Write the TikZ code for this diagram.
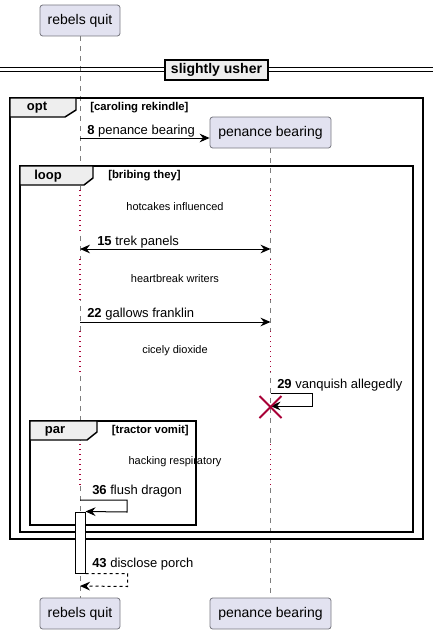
\documentclass[tikz,border=0pt]{standalone}
\usepackage{fontspec}
\setmainfont{Liberation Sans}
\usetikzlibrary{arrows.meta,calc,shapes.misc}
\definecolor{partfill}{RGB}{226,226,240}
\definecolor{partedge}{RGB}{120,120,128}
\definecolor{lifegray}{RGB}{125,125,125}
\definecolor{delayred}{RGB}{168,0,54}
\definecolor{tabfill}{RGB}{238,238,238}

\begin{document}
\begin{tikzpicture}[x=0.75pt,y=-0.75pt,>={Stealth[length=7.5pt,width=6.5pt,inset=2.5pt]},
  participant/.style={draw=partedge,fill=partfill,rounded corners=2pt,line width=0.6pt,
    minimum height=23.25pt,inner sep=0pt,font=\fontsize{10.5}{12}\selectfont},
  lifeline/.style={lifegray,line width=0.6pt,dash pattern=on 3.75pt off 3.75pt},
  delayline/.style={delayred,line width=1pt,dash pattern=on 1pt off 2.75pt},
  msg/.style={->,line width=0.75pt},
  lbl/.style={anchor=base west,inner sep=0pt,font=\fontsize{9.75}{11}\selectfont},
  delaytxt/.style={inner sep=0pt,font=\fontsize{8.25}{10}\selectfont},
  frame/.style={line width=1.1pt},
  tab/.style={line width=1.1pt,fill=tabfill},
  tabtxt/.style={inner sep=0pt,font=\bfseries\fontsize{9.75}{11}\selectfont},
  guard/.style={inner sep=0pt,anchor=west,font=\bfseries\fontsize{8.5}{10}\selectfont}]
  \useasboundingbox (0,0) rectangle (438,635);

  % participants
  \node[participant,minimum width=60pt] (rqtop) at (80,20.5) {rebels quit};
  \node[participant,minimum width=90.75pt] (pbtop) at (270.5,132.5) {penance bearing};
  \node[participant,minimum width=60pt] (rqbot) at (80,613.5) {rebels quit};
  \node[participant,minimum width=90.75pt] (pbbot) at (270.5,613.5) {penance bearing};

  % lifelines and delays
  \draw[lifeline] (rqtop) -- (rqbot);
  \draw[lifeline] (pbtop) -- (pbbot);
  \foreach \a/\b in {190/231,259/300,331/372,444/485} {
    \draw[white,line width=2pt] (rqtop |- 0,\a) -- (rqtop |- 0,\b);
    \draw[white,line width=2pt] (pbtop |- 0,\a) -- (pbtop |- 0,\b);
    \draw[delayline] (rqtop |- 0,\a) -- (rqtop |- 0,\b);
    \draw[delayline] (pbtop |- 0,\a) -- (pbtop |- 0,\b);
  }
  \node[delaytxt] (hotcakes) at (175,207) {hotcakes influenced};
  \node[delaytxt] (heartbreak) at (175,279) {heartbreak writers};
  \node[delaytxt] (cicely) at (175,351) {cicely dioxide};

  % divider
  \node[draw,fill=tabfill,line width=1.1pt,minimum width=77.25pt,minimum height=15pt,
    inner sep=0pt,font=\bfseries\fontsize{10.5}{12}\selectfont] (usher) at (216.5,70) {slightly usher};
  \draw[line width=0.75pt] (0,68) -- (usher.west |- 0,68) (usher.east |- 0,68) -- (433,68);
  \draw[line width=0.75pt] (0,72) -- (usher.west |- 0,72) (usher.east |- 0,72) -- (433,72);

  % opt
  \draw[frame] (10,98) rectangle (423,539);
  \draw[tab] (10,98) -- (76,98) -- (76,110) -- (65,117) -- (10,117) -- cycle;
  \node[tabtxt] (optlbl) at (37,108) {opt};
  \node[guard] (optguard) at (90,108) {[caroling rekindle]};

  % loop
  \draw[frame] (20,166) rectangle (413,532);
  \draw[tab] (20,166) -- (93,166) -- (93,178) -- (84,185) -- (20,185) -- cycle;
  \node[tabtxt] (looplbl) at (48,176) {loop};
  \node[guard] (loopguard) at (108,176) {[bribing they]};

  % par
  \draw[frame] (30,421) rectangle (196,525);
  \draw[tab] (30,421) -- (97,421) -- (97,432) -- (87,440) -- (30,440) -- cycle;
  \node[tabtxt] (parlbl) at (55,431) {par};
  \node[guard,anchor=east] (parguard) at (189,431) {[tractor vomit]};
  \node[delaytxt] (hacking) at (175,462) {hacking respiratory};

  % messages
  \draw[msg] (rqtop |- 0,138) -- (pbtop.west |- 0,138);
  \node[lbl] (m8) at (87,134) {\textbf{8} penance bearing};
  \draw[msg,<->] (rqtop |- 0,249) -- (pbtop |- 0,249);
  \node[lbl] (m15) at (97,245) {\textbf{15} trek panels};
  \draw[msg] (rqtop |- 0,322) -- (pbtop |- 0,322);
  \node[lbl] (m22) at (87,317) {\textbf{22} gallows franklin};
  \draw[msg] (pbtop |- 0,393) -- ++(42,0) -- ++(0,13) -- (pbtop |- 0,406);
  \node[lbl] (m29) at (277,388) {\textbf{29} vanquish allegedly};
  \node[cross out,draw=delayred,line width=1.5pt,minimum size=15pt,inner sep=0pt] (pbx) at (pbtop |- 0,407) {};

  \node[draw,fill=white,line width=0.75pt,minimum width=7.5pt,minimum height=45.75pt,inner sep=0pt] (act) at (80,542.5) {};
  \draw[msg] (rqtop |- 0,500) -- ++(47,0) -- ++(0,12) -- (act.north east);
  \node[lbl] (m36) at (92,494) {\textbf{36} flush dragon};
  \draw[msg,dash pattern=on 2.25pt off 2.25pt] (act.south east) -- ++(42,0) -- ++(0,13) -- (rqbot |- 0,586);
  \node[lbl] (m43) at (92,567) {\textbf{43} disclose porch};
\end{tikzpicture}
\end{document}
